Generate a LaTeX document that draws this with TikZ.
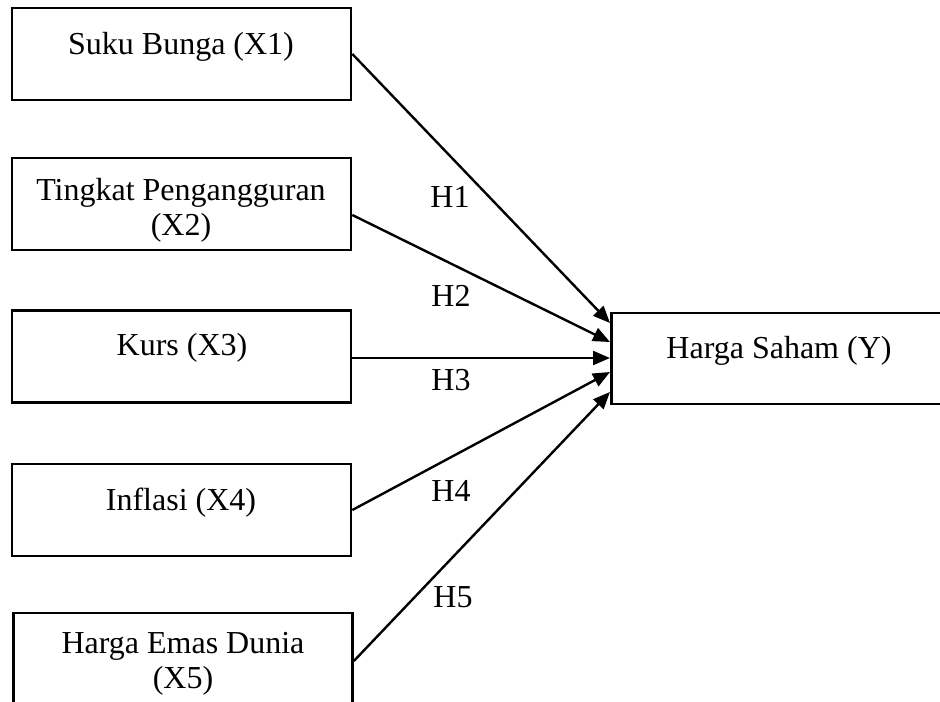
\documentclass[tikz,border=0pt]{standalone}
\usepackage{fontspec}
\setmainfont{Liberation Serif}
\usetikzlibrary{arrows.meta}
\begin{document}
\begin{tikzpicture}[x=0.5pt,y=-0.5pt,
  varbox/.style={draw,line width=1.35pt,rectangle,minimum width=169.5pt,minimum height=46pt,inner sep=0pt},
  lbl/.style={font=\fontsize{16}{17.5}\selectfont,align=center,inner sep=0pt,anchor=base},
  arr/.style={line width=1.2pt,-{Triangle[length=8.5pt,width=7pt]}}]
\useasboundingbox (0,0) rectangle (940,701);
% boxes
\node[varbox] (x1) at (181.5,54) {};
\node[varbox] (x2) at (181.5,204) {};
\node[varbox] (x3) at (181.5,356.5) {};
\node[varbox] (x4) at (181.5,510) {};
\node[varbox] (x5) at (183,659) {};
\node[draw,line width=1.35pt,rectangle,minimum width=180pt,minimum height=45.5pt,inner sep=0pt,anchor=west] (y) at (610,358.5) {};
% texts
\node[lbl] (t1) at (181,55) {Suku Bunga (X1)};
\node[lbl] (t2) at (181,235) {Tingkat Pengangguran\\(X2)};
\node[lbl] (t3) at (182,355) {Kurs (X3)};
\node[lbl] (t4) at (181,510) {Inflasi (X4)};
\node[lbl] (t5) at (183,688) {Harga Emas Dunia\\(X5)};
\node[lbl] (ty) at (779,358) {Harga Saham (Y)};
% arrows
\draw[arr] (x1.east) -- ([yshift=17.75pt]y.west);
\draw[arr] ([yshift=-5.5pt]x2.east) -- ([yshift=8.25pt]y.west);
\draw[arr] ([yshift=-0.75pt]x3.east) -- ([yshift=0.25pt]y.west);
\draw[arr] (x4.east) -- ([yshift=-6.75pt]y.west);
\draw[arr] ([yshift=-1pt]x5.east) -- ([yshift=-16.75pt]y.west);
% hypothesis labels
\node[lbl] (h1) at (450,207) {H1};
\node[lbl] (h2) at (451,306) {H2};
\node[lbl] (h3) at (451,390) {H3};
\node[lbl] (h4) at (451,501) {H4};
\node[lbl] (h5) at (453,607) {H5};
\end{tikzpicture}
\end{document}
